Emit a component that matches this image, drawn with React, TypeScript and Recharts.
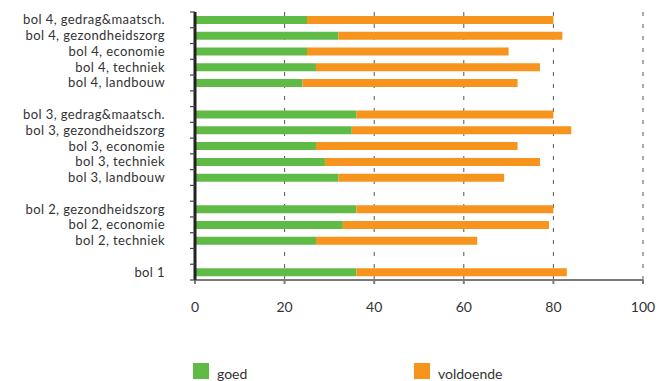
import React from "react";
import { Bar, BarChart, CartesianGrid, Legend, XAxis, YAxis } from "recharts";

const categories = [
  "bol 4, gedrag&maatsch.",
  "bol 4, gezondheidszorg",
  "bol 4, economie",
  "bol 4, techniek",
  "bol 4, landbouw",
  "",
  "bol 3, gedrag&maatsch.",
  "bol 3, gezondheidszorg",
  "bol 3, economie",
  "bol 3, techniek",
  "bol 3, landbouw",
  "",
  "bol 2, gezondheidszorg",
  "bol 2, economie",
  "bol 2, techniek",
  "",
  "bol 1",
];
const goed = [25, 32, 25, 27, 24, null, 36, 35, 27, 29, 32, null, 36, 33, 27, null, 36];
const voldoende = [55, 50, 45, 50, 48, null, 44, 49, 45, 48, 37, null, 44, 46, 36, null, 47];
const xTicks = [0, 20, 40, 60, 80, 100];

const GREEN = "#60bb46";
const ORANGE = "#f7941e";
const FONT = "Lato, sans-serif";

const data = categories.map((name, i) => ({
  key: `row${i}`,
  name,
  goed: goed[i],
  voldoende: voldoende[i],
}));

const PLOT_TOP = 12;
const PLOT_BOTTOM = 280;
const BAND = (PLOT_BOTTOM - PLOT_TOP) / categories.length;
const LABEL_GAP = 30;

const CategoryTick = (props: any) => {
  const { x, y, payload, index } = props;
  const axisX = x + LABEL_GAP;
  const i = payload.index ?? index;
  const label = categories[i] ?? "";
  const last = i === categories.length - 1;
  return (
    <g>
      <line x1={axisX - 5} x2={axisX} y1={y - BAND / 2} y2={y - BAND / 2} stroke="#444" strokeWidth={1.2} />
      {last && (
        <line x1={axisX - 5} x2={axisX} y1={y + BAND / 2} y2={y + BAND / 2} stroke="#444" strokeWidth={1.2} />
      )}
      <text
        x={x}
        y={y}
        dy="0.35em"
        textAnchor="end"
        fill="#333"
        fontSize={13}
        letterSpacing={0.4}
        fontFamily={FONT}
      >
        {label}
      </text>
    </g>
  );
};

const LegendContent = () => (
  <div style={{ position: "relative", height: 19, fontFamily: FONT, fontSize: 14, color: "#333" }}>
    <div style={{ position: "absolute", left: 193, top: 1, width: 16, height: 16, background: GREEN }} />
    <span style={{ position: "absolute", left: 217, top: 3, lineHeight: "18px" }}>goed</span>
    <div style={{ position: "absolute", left: 414, top: 1, width: 16, height: 16, background: ORANGE }} />
    <span style={{ position: "absolute", left: 438, top: 3, lineHeight: "18px" }}>voldoende</span>
  </div>
);

export default function App() {
  return (
    <div style={{ position: "absolute", left: 0, top: 0, width: 660, height: 381, background: "#fff" }}>
      <BarChart
        width={660}
        height={381}
        data={data}
        layout="vertical"
        margin={{ top: PLOT_TOP, right: 17, bottom: 0, left: 0 }}
        barSize={8}
      >
        <CartesianGrid horizontal={false} stroke="#555" strokeDasharray="4 8" />
        <XAxis
          type="number"
          domain={[0, 100]}
          ticks={xTicks}
          height={82}
          stroke="#7a7a7a"
          strokeWidth={2}
          tickSize={4}
          tickMargin={18}
          tick={{ fill: "#333", fontSize: 14, fontFamily: FONT }}
        />
        <YAxis
          type="category"
          dataKey="key"
          width={195}
          stroke="#222"
          strokeWidth={3}
          tickLine={false}
          tickSize={0}
          tickMargin={LABEL_GAP}
          interval={0}
          tick={<CategoryTick />}
        />
        <Legend verticalAlign="bottom" height={19} wrapperStyle={{ left: 0, width: 660 }} content={<LegendContent />} />
        <Bar dataKey="goed" name="goed" stackId="a" fill={GREEN} isAnimationActive={false} />
        <Bar dataKey="voldoende" name="voldoende" stackId="a" fill={ORANGE} isAnimationActive={false} />
      </BarChart>
    </div>
  );
}
